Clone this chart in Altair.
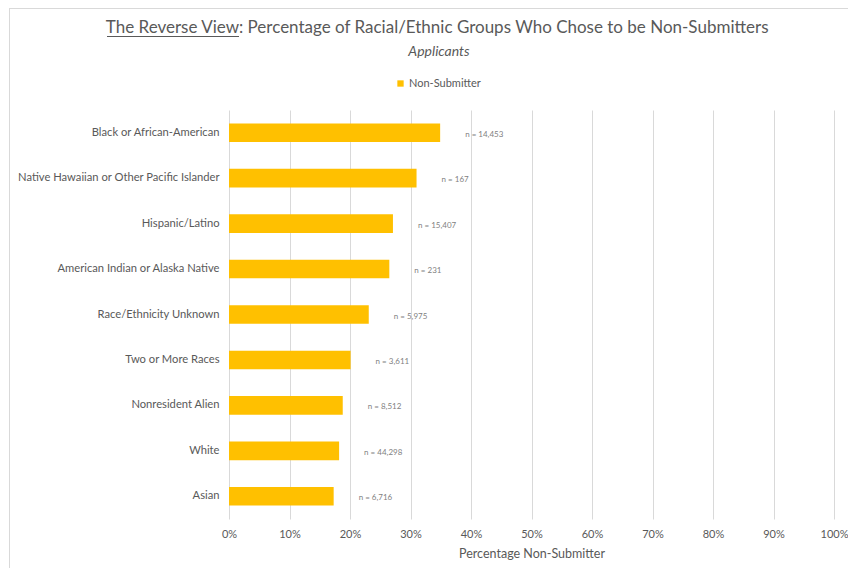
import altair as alt
import pandas as pd

categories = [
    "Black or African-American",
    "Native Hawaiian or Other Pacific Islander",
    "Hispanic/Latino",
    "American Indian or Alaska Native",
    "Race/Ethnicity Unknown",
    "Two or More Races",
    "Nonresident Alien",
    "White",
    "Asian",
]
pct_non_submitter = [0.349, 0.310, 0.271, 0.265, 0.231, 0.201, 0.188, 0.182, 0.173]
n_labels = ["n = 14,453", "n = 167", "n = 15,407", "n = 231", "n = 5,975",
            "n = 3,611", "n = 8,512", "n = 44,298", "n = 6,716"]
x_ticks = [0, 0.1, 0.2, 0.3, 0.4, 0.5, 0.6, 0.7, 0.8, 0.9, 1.0]

title_underlined = "The Reverse View"
title_rest = ": Percentage of Racial/Ethnic Groups Who Chose to be Non-Submitters"
subtitle = "Applicants"
series_name = "Non-Submitter"

FONT = "Lato"
GREY = "#595959"

df = pd.DataFrame({
    "group": categories,
    "pct": pct_non_submitter,
    "n": n_labels,
    "series": [series_name] * len(categories),
})

y_enc = alt.Y("group:N", sort=categories,
              scale=alt.Scale(paddingInner=0.59, paddingOuter=0.295),
              axis=alt.Axis(title=None, ticks=False, domain=False, labelPadding=10,
                            labelFontSize=11.2, labelColor=GREY, labelFont=FONT,
                            labelLimit=300))
x_enc = alt.X("pct:Q", scale=alt.Scale(domain=[0, 1], nice=False),
              axis=alt.Axis(values=x_ticks, format=".0%", grid=True, gridColor="#d9d9d9",
                            domain=False, ticks=False, labelPadding=9, labelFontSize=11,
                            labelFlush=False,
                            labelColor=GREY, labelFont=FONT,
                            title="Percentage Non-Submitter", titleFont=FONT,
                            titleFontSize=12.5, titleFontWeight="normal",
                            titleColor=GREY, titlePadding=8))

bars = alt.Chart(df).mark_bar(color="#FFC000").encode(
    x=x_enc, y=y_enc,
    color=alt.Color("series:N", scale=alt.Scale(range=["#FFC000"]),
                    legend=alt.Legend(title=None, orient="none", legendX=166, legendY=-32,
                                      symbolType="square", symbolSize=40,
                                      symbolStrokeWidth=0, labelFontSize=11,
                                      labelColor=GREY, labelFont=FONT, symbolOffset=0,
                                      labelOffset=3)),
)

nlab = alt.Chart(df).mark_text(align="left", baseline="middle", dx=25, dy=2,
                               fontSize=8, color="#7f7f7f", font=FONT).encode(
    x="pct:Q", y=alt.Y("group:N", sort=categories), text="n:N")

t1 = alt.Chart(pd.DataFrame({"t": [title_underlined]})).mark_text(
    align="right", baseline="alphabetic", fontSize=17, color=GREY, font=FONT).encode(
    x=alt.value(10), y=alt.value(-77), text="t:N")
t2 = alt.Chart(pd.DataFrame({"t": [title_rest]})).mark_text(
    align="left", baseline="alphabetic", fontSize=17, color=GREY, font=FONT).encode(
    x=alt.value(10), y=alt.value(-77), text="t:N")
underline = alt.Chart(pd.DataFrame({"t": [title_underlined]})).mark_rule(
    color=GREY, strokeWidth=1).encode(
    x=alt.value(-122), x2=alt.value(10), y=alt.value(-73.5))
sub = alt.Chart(pd.DataFrame({"t": [subtitle]})).mark_text(
    align="center", baseline="alphabetic", fontSize=14, fontStyle="italic",
    color=GREY, font=FONT).encode(
    x=alt.value(210), y=alt.value(-54), text="t:N")

frame_left = alt.Chart(pd.DataFrame({"t": [0]})).mark_rule(color="#d9d9d9").encode(
    x=alt.value(-219.5), y=alt.value(-102), y2=alt.value(460))
frame_top = alt.Chart(pd.DataFrame({"t": [0]})).mark_rule(color="#d9d9d9").encode(
    x=alt.value(-219.5), x2=alt.value(619), y=alt.value(-101.5))

chart = alt.layer(frame_left, frame_top, bars, nlab, t1, t2, underline, sub).properties(
    width=605, height=409,
    background="white",
    autosize=alt.AutoSizeParams(type="none"),
    padding={"left": 221, "top": 102, "right": 14, "bottom": 49},
).configure_view(stroke=None)

chart.save("out.html", embed_options={"renderer": "svg", "actions": False})
